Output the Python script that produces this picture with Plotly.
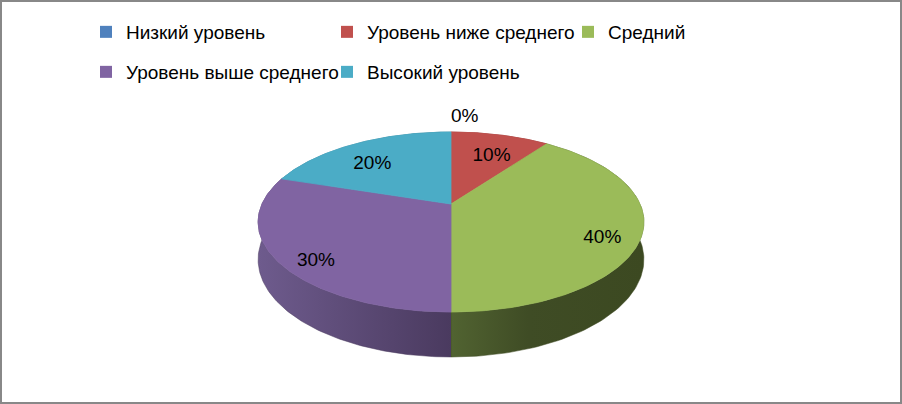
import numpy as np
import plotly.graph_objects as go

# survey result: share of pupils per level, %
levels = ["Низкий уровень", "Уровень ниже среднего", "Средний",
          "Уровень выше среднего", "Высокий уровень"]
shares = [0, 10, 40, 30, 20]

top_colors = ["#4F81BD", "#C0504D", "#9BBB59", "#8064A2", "#4BACC6"]
side_colors = [["#3A6190", "#2F4E75"], ["#93393A", "#7A2E2F"],
               ["#516331", "#3F4C25", "#3C4921"], ["#6E5B8D", "#4A3A5F"],
               ["#368398", "#2A6A7C"]]

W, H = 902, 404
cx, cy = 451, 204        # apex of the pie on screen
rx, ry = 189, 86.4       # radii of the top face
persp = 0.2              # perspective strength
depth = 36               # thickness of the pie


def project(theta, r=1.0, drop=0.0):
    u = r * np.sin(theta)
    v = r * np.cos(theta)
    s = 1.0 / (1.0 + persp * v)
    return cx + rx * u * s, cy - ry * v * s + drop * depth * s


total = sum(shares)
bounds = np.concatenate([[0], np.cumsum(shares)]) / total * 2 * np.pi

fig = go.Figure()

# side walls, back to front
order = sorted(range(len(shares)),
               key=lambda i: -np.cos((bounds[i] + bounds[i + 1]) / 2))
for i in order:
    a, b = bounds[i], bounds[i + 1]
    if b - a <= 0:
        continue
    t = np.linspace(a, b, 120)
    xt, yt = project(t)
    xb, yb = project(t[::-1], drop=1.0)
    cols = side_colors[i]
    scale = [[k / (len(cols) - 1), c] for k, c in enumerate(cols)]
    if len(cols) == 3:
        scale = [[0, cols[0]], [0.4, cols[1]], [1, cols[2]]]
    fig.add_trace(go.Scatter(
        x=np.concatenate([xt, xb]), y=np.concatenate([yt, yb]),
        mode="lines", fill="toself", line=dict(width=0.5, color=cols[-1]),
        fillgradient=dict(type="horizontal", colorscale=scale),
        hoverinfo="skip", showlegend=False))

# top faces
for i in range(len(shares)):
    a, b = bounds[i], bounds[i + 1]
    if b - a <= 0:
        continue
    t = np.linspace(a, b, 120)
    xt, yt = project(t)
    fig.add_trace(go.Scatter(
        x=np.concatenate([[cx], xt, [cx]]), y=np.concatenate([[cy], yt, [cy]]),
        mode="lines", fill="toself", fillcolor=top_colors[i],
        line=dict(width=0.8, color=top_colors[i]),
        hoverinfo="skip", showlegend=False))

# data labels
lx, ly, pos = [], [], []
for i, v in enumerate(shares):
    mid = (bounds[i] + bounds[i + 1]) / 2
    if v == 0:
        x, y = project(mid, r=1.25)
        pos.append("middle right")
    else:
        x, y = project(mid, r=0.8, drop=0.3)
        pos.append("middle center")
    lx.append(x)
    ly.append(y)
fig.add_trace(go.Scatter(
    x=lx, y=ly, mode="text", text=[f"{v}%" for v in shares],
    textposition=pos, textfont=dict(size=19, color="#000000"),
    hoverinfo="skip", showlegend=False))

# legend entries
for i, name in enumerate(levels):
    fig.add_trace(go.Scatter(
        x=[None], y=[None], mode="markers", name=name,
        marker=dict(symbol="square", size=12, color=top_colors[i]),
        legend="legend" if i < 3 else "legend2"))

legend_style = dict(orientation="h", xanchor="left", yanchor="middle",
                    entrywidth=196, entrywidthmode="pixels",
                    bgcolor="rgba(0,0,0,0)", itemclick=False,
                    font=dict(family="Liberation Sans", size=19, color="#000000"))

fig.update_layout(
    width=W, height=H,
    margin=dict(l=0, r=0, t=0, b=0),
    paper_bgcolor="white", plot_bgcolor="white",
    font=dict(family="Liberation Sans", size=19, color="#000000"),
    xaxis=dict(range=[0, W], visible=False, fixedrange=True),
    yaxis=dict(range=[H, 0], visible=False, fixedrange=True),
    legend=dict(x=86 / W, y=1 - 32 / H, **legend_style),
    legend2=dict(x=86 / W, y=1 - 72 / H, **legend_style),
    shapes=[dict(type="rect", xref="paper", yref="paper", x0=0, y0=0, x1=1, y1=1,
                 line=dict(color="#888888", width=4))],
)

fig.write_html("out.html", config={"displayModeBar": False},
               post_script="document.body.style.margin='0';")
